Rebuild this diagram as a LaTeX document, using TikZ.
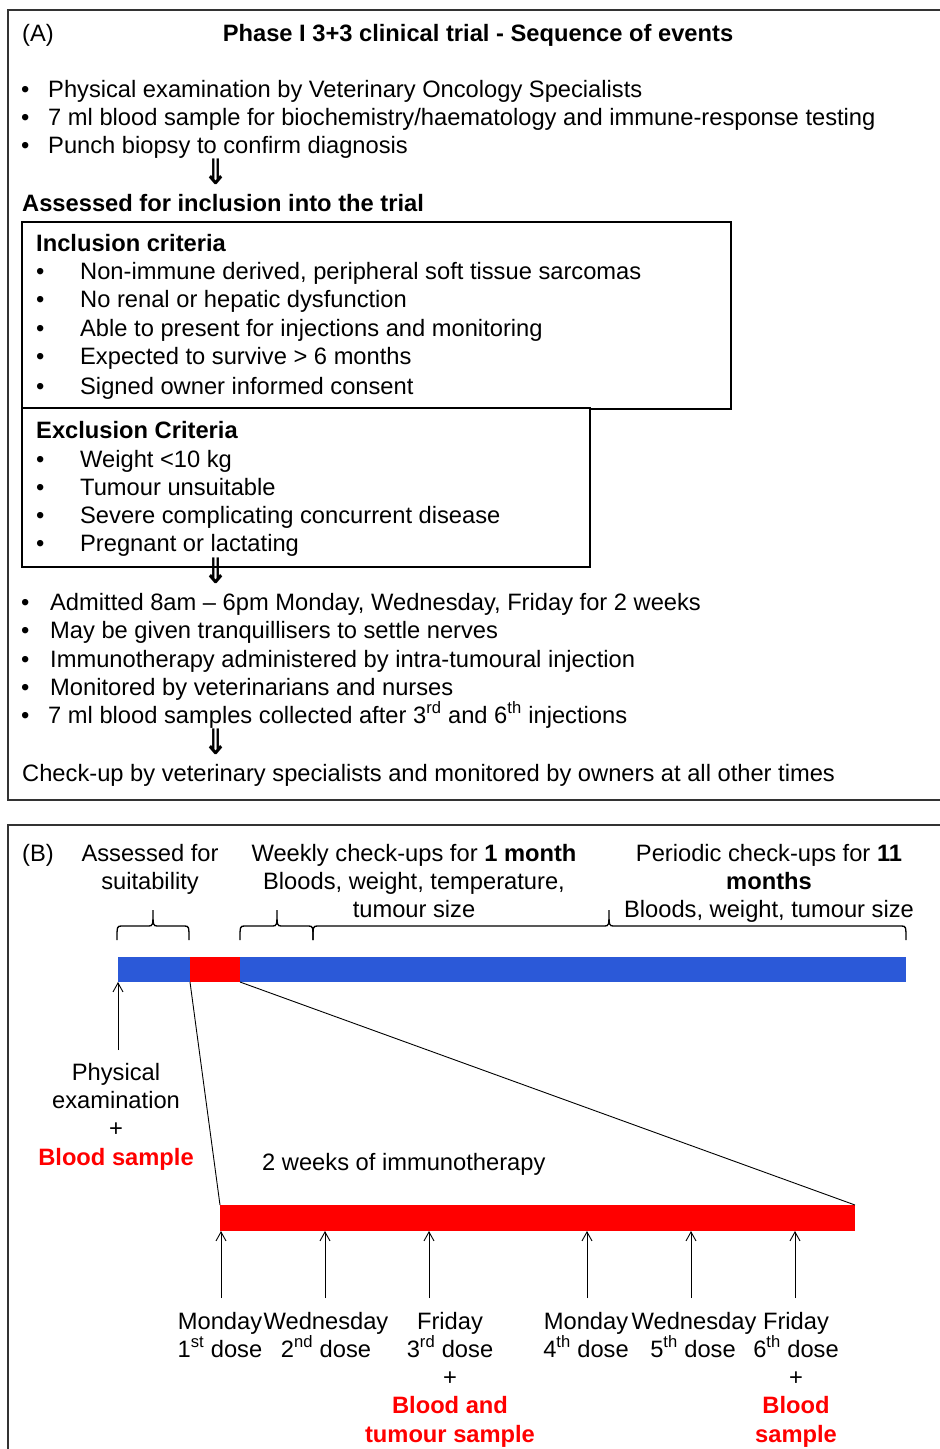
\documentclass[tikz,border=0pt]{standalone}
\usepackage{fontspec}
\setmainfont{Liberation Sans}
\newfontfamily\arrowfont{DejaVu Sans}
\usetikzlibrary{arrows.meta}
\definecolor{barblue}{HTML}{2B59D8}
\definecolor{barred}{HTML}{FF0000}
\definecolor{panelgray}{HTML}{333333}
\newcommand\mainsz{\fontsize{23.7}{28}\selectfont}
\newcommand\dnarrow{\scalebox{1.15}[1.35]{⇓}}
\newcommand\cbrace[3]{\draw[bracel] (#1,940) .. controls (#1,926) .. (#1+5,926) -- (#2-5,926) .. controls (#2,926) .. (#2,910) .. controls (#2,926) .. (#2+5,926) -- (#3-5,926) .. controls (#3,926) .. (#3,940);}
\begin{document}
\begin{tikzpicture}[x=1pt,y=-1pt,
  panel/.style={draw=panelgray,line width=2pt},
  critbox/.style={draw=black,line width=1.3pt},
  tl/.style={font=\mainsz,inner sep=0pt,anchor=base west},
  tc/.style={font=\mainsz,inner sep=0pt,anchor=base},
  hl/.style={tc,text=barred,font=\mainsz\bfseries},
  darr/.style={font=\arrowfont\bfseries\fontsize{26}{26}\selectfont,inner sep=0pt},
  arr/.style={-{Straight Barb[length=9pt,width=10pt]},line width=0.9pt},
  link/.style={line width=0.9pt},
  bracel/.style={line width=1.3pt},
  bar/.style={inner sep=0pt,outer sep=0pt,anchor=north west}]
\useasboundingbox[fill=white] (0,0) rectangle (940,1449);
% ---------- Panel A ----------
\draw[panel] (940,10) -- (8,10) -- (8,800) -- (940,800);
\node[tl] (labA) at (22,41) {(A)};
\node[tc] (titleA) at (478,41) {\bfseries Phase I 3+3 clinical trial - Sequence of events};
\node[tl] (p1) at (21,97) {\makebox[27pt][l]{•}Physical examination by Veterinary Oncology Specialists};
\node[tl] (p2) at (21,125) {\makebox[27pt][l]{•}7 ml blood sample for biochemistry/haematology and immune-response testing};
\node[tl] (p3) at (21,153) {\makebox[27pt][l]{•}Punch biopsy to confirm diagnosis};
\node[darr] (ar1) at (216,172) {\dnarrow};
\node[tl] (assess) at (22,211) {\bfseries Assessed for inclusion into the trial};
\draw[critbox] (22,222) rectangle (731,409);
\node[tl] (inc) at (36,251) {\bfseries Inclusion criteria};
\node[tl] (i1) at (36,279) {\makebox[44pt][l]{•}Non-immune derived, peripheral soft tissue sarcomas};
\node[tl] (i2) at (36,307) {\makebox[44pt][l]{•}No renal or hepatic dysfunction};
\node[tl] (i3) at (36,336) {\makebox[44pt][l]{•}Able to present for injections and monitoring};
\node[tl] (i4) at (36,364) {\makebox[44pt][l]{•}Expected to survive > 6 months};
\node[tl] (i5) at (36,394) {\makebox[44pt][l]{•}Signed owner informed consent};
\draw[critbox,fill=white] (22,408) rectangle (590,567);
\node[tl] (exc) at (36,438) {\bfseries Exclusion Criteria};
\node[tl] (e1) at (36,467) {\makebox[44pt][l]{•}Weight <10 kg};
\node[tl] (e2) at (36,495) {\makebox[44pt][l]{•}Tumour unsuitable};
\node[tl] (e3) at (36,523) {\makebox[44pt][l]{•}Severe complicating concurrent disease};
\node[tl] (e4) at (36,551) {\makebox[44pt][l]{•}Pregnant or lactating};
\node[darr] (ar2) at (216,571) {\dnarrow};
\node[tl] (b1) at (21,610) {\makebox[29pt][l]{•}Admitted 8am – 6pm Monday, Wednesday, Friday for 2 weeks};
\node[tl] (b2) at (21,638) {\makebox[29pt][l]{•}May be given tranquillisers to settle nerves};
\node[tl] (b3) at (21,667) {\makebox[29pt][l]{•}Immunotherapy administered by intra-tumoural injection};
\node[tl] (b4) at (21,695) {\makebox[29pt][l]{•}Monitored by veterinarians and nurses};
\node[tl] (b5) at (21,723) {\makebox[27pt][l]{•}7 ml blood samples collected after 3\textsuperscript{rd} and 6\textsuperscript{th} injections};
\node[darr] (ar3) at (216,742) {\dnarrow};
\node[tl] (check) at (22,781) {Check-up by veterinary specialists and monitored by owners at all other times};
% ---------- Panel B ----------
\draw[panel] (940,825) -- (8,825) -- (8,1449);
\node[tl] (labB) at (22,861) {(B)};
\node[tc] (s1) at (150,861) {Assessed for};
\node[tc] (s2) at (150,889) {suitability};
\node[tc] (w1) at (414,861) {Weekly check-ups for \textbf{1 month}};
\node[tc] (w2) at (414,889) {Bloods, weight, temperature,};
\node[tc] (w3) at (414,917) {tumour size};
\node[tc] (m1) at (769,861) {Periodic check-ups for \textbf{11}};
\node[tc] (m2) at (769,889) {\textbf{months}};
\node[tc] (m3) at (769,917) {Bloods, weight, tumour size};
\cbrace{117}{153}{189}
\cbrace{240}{277}{313}
\cbrace{313}{609}{906}
\node[bar,fill=barblue,minimum width=788pt,minimum height=25pt] (bluebar) at (118,957) {};
\node[bar,fill=barred,minimum width=50pt,minimum height=25pt] (redseg) at (190,957) {};
\coordinate (pe) at (118,1050);
\draw[arr] (pe) -- (pe |- bluebar.south);
\node[tc] (pe1) at (116,1080) {Physical};
\node[tc] (pe2) at (116,1108) {examination};
\node[tc] (pe3) at (116,1136) {+};
\node[hl] (pe4) at (116,1165) {Blood sample};
\node[tl] (two) at (262,1170) {2 weeks of immunotherapy};
\node[bar,fill=barred,minimum width=635pt,minimum height=26pt] (redbar) at (220,1205) {};
\draw[link] (redseg.south west) -- (redbar.north west);
\draw[link] (redseg.south east) -- (redbar.north east);
\foreach \x [count=\i] in {221,325,429,587,691,795} {
  \coordinate (d\i) at (\x,1298);
  \draw[arr] (d\i) -- (d\i |- redbar.south);
}
\node[tc] (day1) at (220,1329) {Monday};
\node[tc] (day2) at (326,1329) {Wednesday};
\node[tc] (day3) at (450,1329) {Friday};
\node[tc] (day4) at (586,1329) {Monday};
\node[tc] (day5) at (694,1329) {Wednesday};
\node[tc] (day6) at (796,1329) {Friday};
\node[tc] (dose1) at (220,1357) {1\textsuperscript{st} dose};
\node[tc] (dose2) at (326,1357) {2\textsuperscript{nd} dose};
\node[tc] (dose3) at (450,1357) {3\textsuperscript{rd} dose};
\node[tc] (dose4) at (586,1357) {4\textsuperscript{th} dose};
\node[tc] (dose5) at (693,1357) {5\textsuperscript{th} dose};
\node[tc] (dose6) at (796,1357) {6\textsuperscript{th} dose};
\node[tc] (plus3) at (450,1385) {+};
\node[tc] (plus6) at (796,1385) {+};
\node[hl] (bt1) at (450,1413) {Blood and};
\node[hl] (bt2) at (450,1442) {tumour sample};
\node[hl] (bs1) at (796,1413) {Blood};
\node[hl] (bs2) at (796,1442) {sample};
\end{tikzpicture}
\end{document}
